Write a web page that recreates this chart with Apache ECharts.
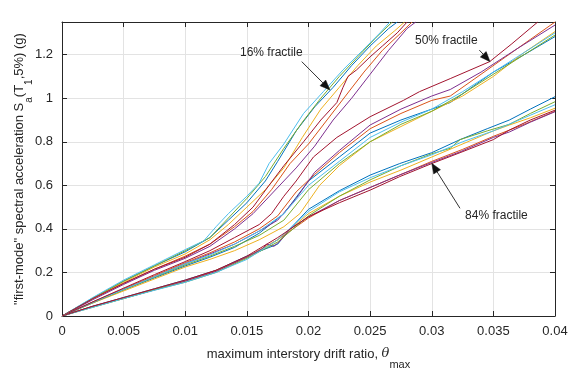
<!DOCTYPE html>
<html><head><meta charset="utf-8">
<script src="https://cdn.jsdelivr.net/npm/echarts@6/dist/echarts.min.js"></script>
<style>html,body{margin:0;padding:0;background:#fff}#c{width:571px;height:374px}</style>
</head><body><div id="c"></div>
<script>
// ---- axis ticks ----
const xTicks = [0, 0.005, 0.01, 0.015, 0.02, 0.025, 0.03, 0.035, 0.04];
const yTicks = [0, 0.2, 0.4, 0.6, 0.8, 1, 1.2];
const yMax = 1.35;

// MATLAB default colour order
const colors = ['#0072BD', '#D95319', '#EDB120', '#7E2F8E', '#77AC30', '#4DBEEE', '#A2142F'];

// ---- 16% fractile curves [drift, Sa] ----
const f16_blue = [[0,0],[0.0025,0.08],[0.005,0.16],[0.0075,0.23],[0.01,0.295],[0.012,0.36],[0.0135,0.44],[0.015,0.52],[0.0165,0.62],[0.0175,0.71],[0.019,0.85],[0.0205,0.96],[0.022,1.05],[0.0235,1.15],[0.025,1.24],[0.0265,1.32],[0.0272,1.35]];
const f16_orange = [[0,0],[0.0025,0.08],[0.005,0.15],[0.0075,0.215],[0.01,0.275],[0.012,0.33],[0.014,0.41],[0.0155,0.48],[0.017,0.58],[0.0185,0.70],[0.02,0.79],[0.0215,0.90],[0.023,1.01],[0.0245,1.12],[0.026,1.22],[0.0275,1.30],[0.0284,1.35]];
const f16_yellow = [[0,0],[0.0025,0.08],[0.005,0.155],[0.0075,0.225],[0.01,0.285],[0.012,0.35],[0.0135,0.42],[0.015,0.50],[0.0165,0.58],[0.018,0.68],[0.0195,0.82],[0.021,0.95],[0.0225,1.05],[0.024,1.15],[0.0255,1.24],[0.027,1.31],[0.0278,1.35]];
const f16_purple = [[0,0],[0.0025,0.075],[0.005,0.145],[0.0075,0.21],[0.01,0.265],[0.012,0.32],[0.014,0.40],[0.0155,0.47],[0.017,0.56],[0.018,0.62],[0.019,0.68],[0.0205,0.78],[0.022,0.90],[0.0235,1.00],[0.025,1.11],[0.0265,1.22],[0.028,1.32],[0.0287,1.35]];
const f16_green = [[0,0],[0.0025,0.083],[0.005,0.16],[0.0075,0.23],[0.01,0.30],[0.012,0.36],[0.0135,0.45],[0.015,0.54],[0.0165,0.64],[0.018,0.77],[0.0195,0.89],[0.021,1.00],[0.0225,1.10],[0.024,1.19],[0.0255,1.28],[0.0268,1.35]];
const f16_cyan = [[0,0],[0.0025,0.085],[0.005,0.165],[0.0075,0.235],[0.01,0.305],[0.0115,0.345],[0.0125,0.41],[0.0135,0.47],[0.015,0.55],[0.016,0.61],[0.0168,0.70],[0.018,0.79],[0.0196,0.93],[0.0212,1.03],[0.0228,1.13],[0.0244,1.22],[0.0258,1.30],[0.0266,1.35]];
const f16_red = [[0,0],[0.0025,0.08],[0.005,0.15],[0.0075,0.215],[0.01,0.27],[0.012,0.33],[0.014,0.42],[0.0155,0.50],[0.0168,0.60],[0.018,0.69],[0.0196,0.80],[0.021,0.90],[0.0223,0.98],[0.0228,1.05],[0.0232,1.10],[0.0239,1.13],[0.025,1.19],[0.026,1.24],[0.0272,1.30],[0.028,1.35]];

// ---- 50% fractile curves ----
const m50_blue = [[0,0],[0.0025,0.06],[0.005,0.12],[0.0075,0.175],[0.01,0.23],[0.012,0.27],[0.014,0.315],[0.016,0.38],[0.018,0.47],[0.02,0.62],[0.0225,0.73],[0.025,0.84],[0.0275,0.90],[0.03,0.95],[0.0315,0.98],[0.033,1.04],[0.035,1.12],[0.0375,1.20],[0.04,1.283]];
const m50_orange = [[0,0],[0.0025,0.065],[0.005,0.125],[0.0075,0.185],[0.01,0.245],[0.012,0.29],[0.014,0.34],[0.016,0.40],[0.0175,0.46],[0.019,0.57],[0.0205,0.65],[0.0225,0.75],[0.025,0.86],[0.0275,0.93],[0.03,0.99],[0.0315,1.01],[0.0335,1.09],[0.036,1.19],[0.038,1.27],[0.04,1.35]];
const m50_yellow = [[0,0],[0.0025,0.06],[0.005,0.115],[0.0075,0.17],[0.01,0.225],[0.012,0.26],[0.014,0.30],[0.016,0.35],[0.018,0.41],[0.0193,0.47],[0.0209,0.60],[0.0225,0.69],[0.025,0.80],[0.0275,0.87],[0.03,0.94],[0.0325,1.01],[0.035,1.10],[0.0375,1.21],[0.04,1.306]];
const m50_purple = [[0,0],[0.0025,0.063],[0.005,0.122],[0.0075,0.18],[0.01,0.24],[0.012,0.285],[0.014,0.33],[0.016,0.39],[0.0175,0.44],[0.019,0.54],[0.0205,0.66],[0.0225,0.76],[0.025,0.877],[0.0275,0.95],[0.03,1.01],[0.0315,1.04],[0.034,1.12],[0.037,1.23],[0.04,1.336]];
const m50_green = [[0,0],[0.0025,0.062],[0.005,0.12],[0.0075,0.178],[0.01,0.235],[0.012,0.275],[0.014,0.32],[0.016,0.37],[0.018,0.44],[0.02,0.58],[0.0225,0.70],[0.025,0.80],[0.0275,0.88],[0.03,0.94],[0.0325,1.02],[0.035,1.11],[0.0375,1.20],[0.04,1.29]];
const m50_cyan = [[0,0],[0.0025,0.063],[0.005,0.122],[0.0075,0.18],[0.01,0.24],[0.012,0.28],[0.014,0.33],[0.016,0.39],[0.018,0.47],[0.02,0.60],[0.0225,0.71],[0.025,0.82],[0.0275,0.89],[0.03,0.95],[0.0325,1.03],[0.035,1.12],[0.0375,1.21],[0.04,1.30]];
const m50_red = [[0,0],[0.0025,0.065],[0.005,0.128],[0.0075,0.19],[0.01,0.25],[0.012,0.30],[0.014,0.36],[0.016,0.42],[0.017,0.47],[0.018,0.55],[0.019,0.62],[0.0204,0.73],[0.0223,0.82],[0.025,0.915],[0.0277,0.99],[0.029,1.03],[0.0315,1.09],[0.0347,1.168],[0.0365,1.25],[0.0386,1.35]];

// ---- 84% fractile curves ----
const l84_blue = [[0,0],[0.0025,0.045],[0.005,0.085],[0.0075,0.125],[0.01,0.165],[0.0125,0.21],[0.015,0.275],[0.0175,0.33],[0.0185,0.40],[0.02,0.49],[0.0225,0.575],[0.025,0.647],[0.0274,0.70],[0.03,0.75],[0.0323,0.81],[0.0345,0.86],[0.0363,0.90],[0.038,0.95],[0.04,1.007]];
const l84_orange = [[0,0],[0.0025,0.044],[0.005,0.083],[0.0075,0.122],[0.01,0.16],[0.0125,0.21],[0.015,0.27],[0.0175,0.35],[0.02,0.45],[0.0225,0.53],[0.025,0.59],[0.0275,0.65],[0.03,0.71],[0.0325,0.765],[0.035,0.825],[0.0375,0.88],[0.04,0.94]];
const l84_yellow = [[0,0],[0.0025,0.042],[0.005,0.08],[0.0075,0.12],[0.01,0.16],[0.0125,0.205],[0.015,0.27],[0.0175,0.35],[0.02,0.47],[0.0225,0.55],[0.025,0.615],[0.0275,0.67],[0.03,0.73],[0.0323,0.785],[0.035,0.85],[0.0363,0.877],[0.038,0.91],[0.04,0.954]];
const l84_purple = [[0,0],[0.0025,0.043],[0.005,0.082],[0.0075,0.12],[0.01,0.16],[0.0125,0.205],[0.015,0.27],[0.0163,0.31],[0.0166,0.33],[0.0172,0.32],[0.0178,0.35],[0.0185,0.40],[0.02,0.455],[0.0225,0.53],[0.025,0.59],[0.0275,0.65],[0.03,0.705],[0.0323,0.754],[0.035,0.82],[0.0363,0.845],[0.038,0.89],[0.04,0.938]];
const l84_green = [[0,0],[0.0025,0.04],[0.005,0.08],[0.0075,0.12],[0.01,0.155],[0.0125,0.20],[0.015,0.265],[0.0175,0.34],[0.02,0.46],[0.0225,0.55],[0.025,0.625],[0.0275,0.69],[0.03,0.745],[0.0315,0.77],[0.0323,0.81],[0.0345,0.85],[0.0363,0.88],[0.038,0.93],[0.04,0.984]];
const l84_cyan = [[0,0],[0.0025,0.04],[0.005,0.08],[0.0075,0.118],[0.01,0.155],[0.0125,0.20],[0.015,0.26],[0.0175,0.35],[0.02,0.48],[0.0225,0.57],[0.025,0.635],[0.0275,0.69],[0.03,0.74],[0.0325,0.80],[0.035,0.85],[0.0375,0.91],[0.04,0.97]];
const l84_red = [[0,0],[0.0025,0.045],[0.005,0.085],[0.0075,0.125],[0.01,0.165],[0.0125,0.21],[0.015,0.275],[0.0175,0.36],[0.02,0.456],[0.0225,0.52],[0.025,0.578],[0.0274,0.64],[0.03,0.70],[0.0323,0.75],[0.035,0.81],[0.0363,0.854],[0.038,0.90],[0.04,0.945]];

const groups = [
  [f16_blue, f16_orange, f16_yellow, f16_purple, f16_green, f16_cyan, f16_red],
  [m50_blue, m50_orange, m50_yellow, m50_purple, m50_green, m50_cyan, m50_red],
  [l84_blue, l84_orange, l84_yellow, l84_purple, l84_green, l84_cyan, l84_red]
];

// ---- annotations (data coords): label anchor, arrow tail, arrow tip ----
const annLabels = ['16% fractile', '50% fractile', '84% fractile'];
const annText = [[0.01444, 1.198], [0.02864, 1.254], [0.0327, 0.451]];
const annTail = [[0.01945, 1.168], [0.03386, 1.221], [0.03229, 0.4946]];
const annTip  = [[0.02174, 1.038], [0.03473, 1.168], [0.0300, 0.701]];

const series = [];
groups.forEach(g => g.forEach((d, i) => {
  series.push({
    type: 'line', data: d, showSymbol: false, symbol: 'none',
    lineStyle: { width: 1, color: colors[i] }, itemStyle: { color: colors[i] },
    animation: false, silent: true, clip: true, z: 3
  });
}));

const font = 'Liberation Sans, Arial, sans-serif';
const txtColor = '#262626';
const fmt = v => String(parseFloat(v.toFixed(4)));

const chart = echarts.init(document.getElementById('c'), null, { renderer: 'canvas' });
chart.setOption({
  animation: false,
  backgroundColor: '#fff',
  grid: { left: 62, right: 16, top: 22, bottom: 58, containLabel: false, outerBoundsMode: 'none' },
  xAxis: [{
    type: 'value', min: xTicks[0], max: xTicks[xTicks.length - 1], interval: 0.005,
    axisLine: { show: true, onZero: false, lineStyle: { color: txtColor, width: 1 } },
    axisTick: { show: true, inside: true, length: 5, lineStyle: { color: txtColor } },
    axisLabel: { color: txtColor, fontFamily: font, fontSize: 13, margin: 9, formatter: fmt },
    splitLine: { show: true, lineStyle: { color: '#e3e3e3', width: 1 } },
    name: 'maximum interstory drift ratio, {th|θ}{sub|max}',
    nameLocation: 'middle', nameGap: 28, nameMoveOverlap: false,
    nameTextStyle: {
      color: txtColor, fontFamily: font, fontSize: 13, lineHeight: 20,
      rich: {
        th: { fontFamily: 'DejaVu Serif, Liberation Serif, serif', fontStyle: 'italic', fontSize: 13, lineHeight: 20, color: txtColor },
        sub: { fontFamily: font, fontSize: 11, lineHeight: 10, verticalAlign: 'bottom', color: txtColor, padding: [0,0,-6,0] }
      }
    }
  }, {
    type: 'value', position: 'top', min: xTicks[0], max: xTicks[xTicks.length - 1], interval: 0.005,
    axisLine: { show: true, onZero: false, lineStyle: { color: txtColor, width: 1 } },
    axisTick: { show: true, inside: true, length: 5, lineStyle: { color: txtColor } },
    axisLabel: { show: false }, splitLine: { show: false }
  }],
  yAxis: [{
    type: 'value', min: 0, max: yMax, interval: 0.2,
    axisLine: { show: true, onZero: false, lineStyle: { color: txtColor, width: 1 } },
    axisTick: { show: true, inside: true, length: 5, lineStyle: { color: txtColor } },
    axisLabel: {
      color: txtColor, fontFamily: font, fontSize: 13, margin: 9,
      formatter: v => (yTicks.some(t => Math.abs(t - v) < 1e-9) ? fmt(v) : ''),
      showMaxLabel: false
    },
    splitLine: { show: true, lineStyle: { color: '#e3e3e3', width: 1 } },
    name: '"first-mode" spectral acceleration S{sub|a}(T{sub|1},5%) (g)',
    nameLocation: 'middle', nameGap: 33, nameRotate: 90, nameMoveOverlap: false,
    nameTextStyle: {
      color: txtColor, fontFamily: font, fontSize: 13, lineHeight: 20,
      rich: {
        sub: { fontFamily: font, fontSize: 10, lineHeight: 10, verticalAlign: 'bottom', color: txtColor, padding: [0,0,-5,0] }
      }
    }
  }, {
    type: 'value', position: 'right', min: 0, max: yMax, interval: 0.2,
    axisLine: { show: true, onZero: false, lineStyle: { color: txtColor, width: 1 } },
    axisTick: { show: true, inside: true, length: 5, lineStyle: { color: txtColor } },
    axisLabel: { show: false }, splitLine: { show: false }
  }],
  series: series
});

// annotations
const gfx = [];
annLabels.forEach((t, i) => {
  const p = chart.convertToPixel({ gridIndex: 0 }, annText[i]);
  const a = chart.convertToPixel({ gridIndex: 0 }, annTail[i]);
  const b = chart.convertToPixel({ gridIndex: 0 }, annTip[i]);
  gfx.push({
    type: 'text', left: p[0], top: p[1] - 8, z: 10, silent: true,
    style: { text: t, fill: txtColor, font: '12px ' + font }
  });
  const dx = b[0] - a[0], dy = b[1] - a[1];
  const len = Math.hypot(dx, dy), ux = dx / len, uy = dy / len;
  const hl = 10, hw = 4;
  const bx = b[0] - ux * hl, by = b[1] - uy * hl;
  gfx.push({
    type: 'line', z: 10, silent: true,
    shape: { x1: a[0], y1: a[1], x2: bx, y2: by },
    style: { stroke: '#333', lineWidth: 1 }
  });
  gfx.push({
    type: 'polygon', z: 10, silent: true,
    shape: { points: [[b[0], b[1]], [bx - uy * hw, by + ux * hw], [bx + uy * hw, by - ux * hw]] },
    style: { fill: '#111', stroke: '#111', lineWidth: 0.5 }
  });
});
chart.setOption({ graphic: gfx });
</script>
</body></html>
